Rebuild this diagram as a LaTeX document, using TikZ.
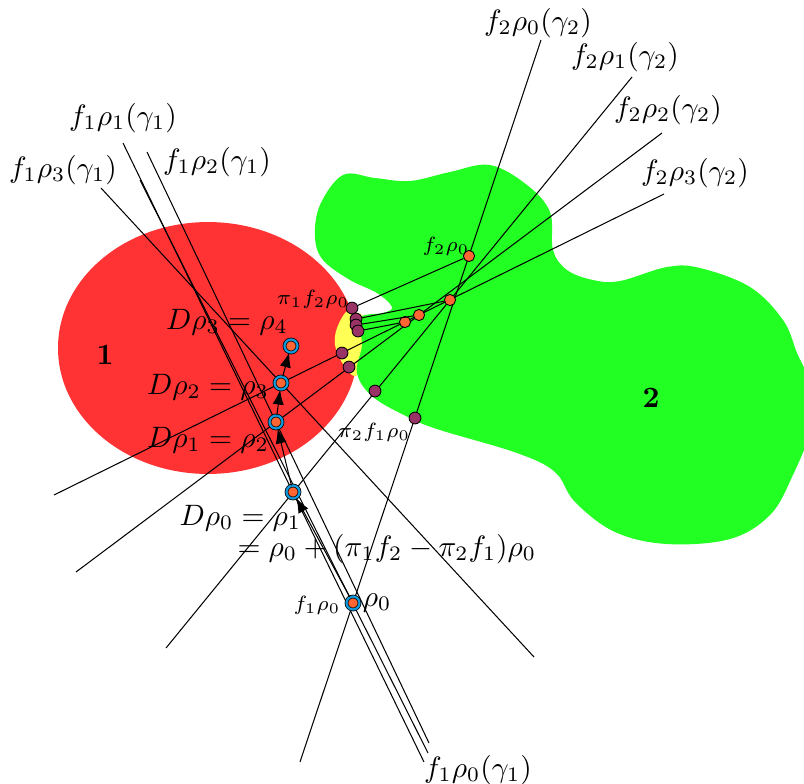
\documentclass[tikz,border=0pt]{standalone}
\usepackage{amsmath,amssymb}
\usepackage{tikz}
\usepackage{xcolor}
\usetikzlibrary{arrows.meta}

\definecolor{regionred}{RGB}{255,51,51}
\definecolor{regiongreen}{RGB}{34,255,34}
\definecolor{lensyellow}{RGB}{255,255,85}
\definecolor{pointorange}{RGB}{255,102,51}
\definecolor{ringcyan}{RGB}{17,153,221}
\definecolor{pointpurple}{RGB}{153,51,102}

\begin{document}
\begin{tikzpicture}[
  x=0.339pt, y=-0.339pt,
  >={Latex[length=5pt,width=3.8pt]},
  curve/.style={line width=0.35pt},
  rho/.style={circle, draw=black, line width=0.25pt, double=ringcyan,
              double distance=0.75pt, fill=pointorange, inner sep=0pt, minimum size=4.4pt},
  fpoint/.style={circle, draw=black, line width=0.3pt, fill=pointorange,
                 inner sep=0pt, minimum size=3.8pt},
  ppoint/.style={fpoint, fill=pointpurple, minimum size=4pt},
  small/.style={font=\scriptsize},
  flow/.style={->, line width=0.35pt}
]
  \useasboundingbox (0,0) rectangle (804,783);
  \clip (0,0) rectangle (804,783);

  \fill[regionred] (208,348) ellipse [x radius=50.85pt, y radius=42.7pt];
  \fill[lensyellow] plot[smooth cycle] coordinates {(348,311) (337,328) (335,345) (343,364) (356,376) (370,350) (368,320)};
  \fill[regiongreen] plot[smooth cycle, tension=0.6] coordinates {
    (315,237) (320,205) (343,175) (375,178) (410,181) (450,172) (490,165) (527,185)
    (550,212) (553,250) (567,270) (593,280) (620,281) (667,267) (700,268) (750,287)
    (783,320) (797,353) (810,385) (810,430) (792,477) (770,515) (730,539) (667,544)
    (615,532) (575,502) (555,472) (517,453) (440,430) (410,418) (373,397) (357,373)
    (362,345) (360,318) (383,313) (392,307) (377,293) (350,280) (323,260)};

  \coordinate (a0) at (300,762); \coordinate (b0) at (541,40);
  \coordinate (a1) at (166,648); \coordinate (b1) at (632,77);
  \coordinate (a2) at (76,572);  \coordinate (b2) at (662,133);
  \coordinate (a3) at (54,495);  \coordinate (b3) at (664,194);
  \coordinate (u0) at (140,180); \coordinate (v0) at (428,753);
  \coordinate (u1) at (123,143); \coordinate (v1) at (424,762);
  \coordinate (u2) at (147,152); \coordinate (v2) at (429,743);
  \coordinate (u3) at (101,188); \coordinate (v3) at (534,657);
  \foreach \i in {0,...,3}
    \draw[curve] (a\i) -- (b\i) (u\i) -- (v\i);

  \node[fpoint] (f0) at (469,256) {};
  \node[fpoint] (f1) at (450,300) {};
  \node[fpoint] (f2) at (419,315) {};
  \node[fpoint] (f3) at (405,322) {};
  \node[ppoint] (q0) at (352,308) {};
  \node[ppoint] (q1) at (356,319) {};
  \node[ppoint] (q2) at (356,325) {};
  \node[ppoint] (q3) at (358,331) {};
  \foreach \i in {0,...,3}
    \draw[curve] (q\i) -- (f\i);
  \node[ppoint] (s0) at (415,418) {};
  \node[ppoint] (s1) at (375,391) {};
  \node[ppoint] (s2) at (349,367) {};
  \node[ppoint] (s3) at (342,353) {};

  \node[rho] (r0) at (353,603) {};
  \node[rho] (r1) at (293,492) {};
  \node[rho] (r2) at (276,422) {};
  \node[rho] (r3) at (281,383) {};
  \node[rho] (r4) at (291,346) {};
  \draw[flow] (r0) -- (r1);
  \draw[flow] (r1) -- (r2);
  \draw[flow] (r2) -- (r3);
  \draw[flow] (r3) -- (r4);

  \node (lb0) at (538,23)  {$f_2\rho_0(\gamma_2)$};
  \node (lb1) at (625,57)  {$f_2\rho_1(\gamma_2)$};
  \node (lb2) at (668,110) {$f_2\rho_2(\gamma_2)$};
  \node (lb3) at (695,173) {$f_2\rho_3(\gamma_2)$};
  \node (la0) at (478,770) {$f_1\rho_0(\gamma_1)$};
  \node (la1) at (123,118) {$f_1\rho_1(\gamma_1)$};
  \node (la2) at (217,162) {$f_1\rho_2(\gamma_1)$};
  \node (la3) at (63,170)  {$f_1\rho_3(\gamma_1)$};

  \node (d3) at (227,322) {$D\rho_3 = \rho_4$};
  \node (d2) at (208,387) {$D\rho_2 = \rho_3$};
  \node (d1) at (208,440) {$D\rho_1 = \rho_2$};
  \node[anchor=base west, inner sep=0pt] (d0) at (179,525) {$D\rho_0 = \rho_1$};
  \node[anchor=base west, inner sep=0pt] (d0b) at (237,556) {$= \rho_0 + (\pi_1 f_2 - \pi_2 f_1)\rho_0$};
  \node (lr0) at (377,603) {$\rho_0$};

  \node[small] (lf10) at (317,605) {$f_1\rho_0$};
  \node[small] (lf20) at (446,246) {$f_2\rho_0$};
  \node[small] (lq0) at (313,299) {$\pi_1 f_2\rho_0$};
  \node[small] (ls0) at (374,432) {$\pi_2 f_1\rho_0$};

  \node (one) at (105,355) {\textbf{1}};
  \node (two) at (651,398) {\textbf{2}};
\end{tikzpicture}
\end{document}
